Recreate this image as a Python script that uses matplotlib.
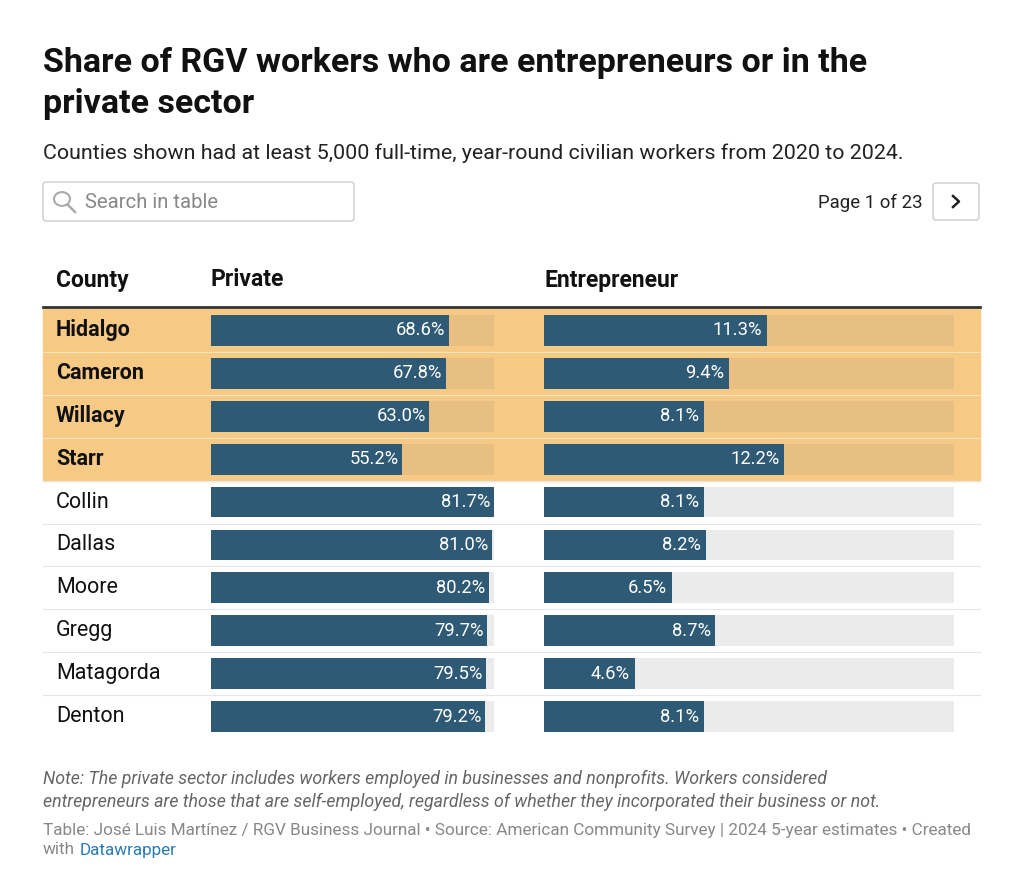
import matplotlib
matplotlib.use("Agg")
import matplotlib.pyplot as plt
from matplotlib.patches import Rectangle, FancyBboxPatch, Circle
from matplotlib.lines import Line2D

plt.rcParams['font.family'] = ['Roboto', 'DejaVu Sans']

counties = ["Hidalgo", "Cameron", "Willacy", "Starr", "Collin", "Dallas", "Moore", "Gregg", "Matagorda", "Denton"]
private = [68.6, 67.8, 63.0, 55.2, 81.7, 81.0, 80.2, 79.7, 79.5, 79.2]
entrepreneur = [11.3, 9.4, 8.1, 12.2, 8.1, 8.2, 6.5, 8.7, 4.6, 8.1]
highlighted = [True, True, True, True, False, False, False, False, False, False]
private_max = 81.7
entre_max = 20.8

W, H = 1024, 883
fig = plt.figure(figsize=(W/100, H/100), dpi=100)

def fx(px): return px / W
def fy(py): return 1 - py / H

def ftext(px, py, s, **kw):
    fig.text(fx(px), fy(py), s, **kw)

BAR = "#2e5a76"
HL = "#f6ca85"
HLBG = "#e8bf83"
BG = "#ebebeb"

top, bot = 309, 738
rowh = (bot - top) / len(counties)

nh = sum(highlighted)
fig.patches.append(Rectangle((fx(43), fy(top + nh*rowh)), fx(980)-fx(43), (nh*rowh)/H,
                             transform=fig.transFigure, color=HL, zorder=-2))
for i in range(1, len(counties)):
    y = top + i*rowh
    c = "#fbe3b8" if i < nh else "#e6e6e6"
    fig.lines.append(Line2D([fx(43), fx(980)], [fy(y), fy(y)], transform=fig.transFigure, color=c, lw=0.8, zorder=-1))
fig.lines.append(Line2D([fx(43), fx(980)], [fy(307), fy(307)], transform=fig.transFigure, color="#333333", lw=2, zorder=2))

def bar_axes(x0, x1, vals, vmax):
    ax = fig.add_axes([fx(x0), fy(bot), fx(x1)-fx(x0), (bot-top)/H])
    ax.set_zorder(1)
    ax.set_xlim(0, vmax)
    ax.set_ylim(len(vals)-0.5, -0.5)
    ax.axis("off")
    ax.patch.set_alpha(0)
    ys = range(len(vals))
    ax.barh(ys, [vmax]*len(vals), height=0.72, color=[HLBG if h else BG for h in highlighted], zorder=1)
    ax.barh(ys, vals, height=0.72, color=BAR, zorder=2)
    for i, v in enumerate(vals):
        ax.text(v - vmax*0.012, i, f"{v:.1f}%", color="white", ha="right", va="center", fontsize=13.2, zorder=3)
    return ax

bar_axes(211, 494, private, private_max)
bar_axes(544, 954, entrepreneur, entre_max)

for i, c in enumerate(counties):
    ftext(56, top + (i+0.5)*rowh, c, fontsize=15.5, va="center", color="#111111",
          fontweight="bold" if highlighted[i] else "normal")

for x, s in [(56, "County"), (211, "Private"), (544, "Entrepreneur")]:
    ftext(x, 280, s, fontsize=16.5, fontweight="bold", va="center", color="#111111")

ftext(43, 63, "Share of RGV workers who are entrepreneurs or in the", fontsize=24.5, fontweight="bold", va="center", color="#111111")
ftext(43, 104, "private sector", fontsize=24.5, fontweight="bold", va="center", color="#111111")
ftext(43, 153, "Counties shown had at least 5,000 full-time, year-round civilian workers from 2020 to 2024.",
      fontsize=15.4, va="center", color="#222222")

fig.patches.append(FancyBboxPatch((fx(43), fy(221)), fx(354)-fx(43), 39/H, boxstyle="round,pad=0,rounding_size=0.003",
                                  transform=fig.transFigure, fc="white", ec="#cccccc", lw=1))
fig.patches.append(Circle((fx(62), fy(199)), 8/W, transform=fig.transFigure, fill=False, ec="#aaaaaa", lw=1.5))
fig.lines.append(Line2D([fx(68), fx(75)], [fy(205), fy(212)], transform=fig.transFigure, color="#aaaaaa", lw=1.8))
ftext(85, 202, "Search in table", fontsize=14.6, va="center", color="#888888")

ftext(923, 203, "Page 1 of 23", fontsize=13.4, va="center", ha="right", color="#222222")
fig.patches.append(FancyBboxPatch((fx(933), fy(220)), fx(979)-fx(933), 37/H, boxstyle="round,pad=0,rounding_size=0.003",
                                  transform=fig.transFigure, fc="white", ec="#cccccc", lw=1))
fig.lines.append(Line2D([fx(953), fx(959), fx(953)], [fy(196), fy(201.5), fy(207)], transform=fig.transFigure, color="#222222", lw=1.8))

ftext(43, 779, "Note: The private sector includes workers employed in businesses and nonprofits. Workers considered",
      fontsize=12.8, style="italic", va="center", color="#666666")
ftext(43, 802, "entrepreneurs are those that are self-employed, regardless of whether they incorporated their business or not.",
      fontsize=12.8, style="italic", va="center", color="#666666")
ftext(43, 830, "Table: José Luis Martínez / RGV Business Journal • Source: American Community Survey | 2024 5-year estimates • Created",
      fontsize=12.3, va="center", color="#888888")
ftext(43, 850, "with", fontsize=12.3, va="center", color="#888888")
ftext(80, 850, "Datawrapper", fontsize=12.3, va="center", color="#2a7ab5")

fig.savefig("out.png", dpi=100, facecolor="white")
